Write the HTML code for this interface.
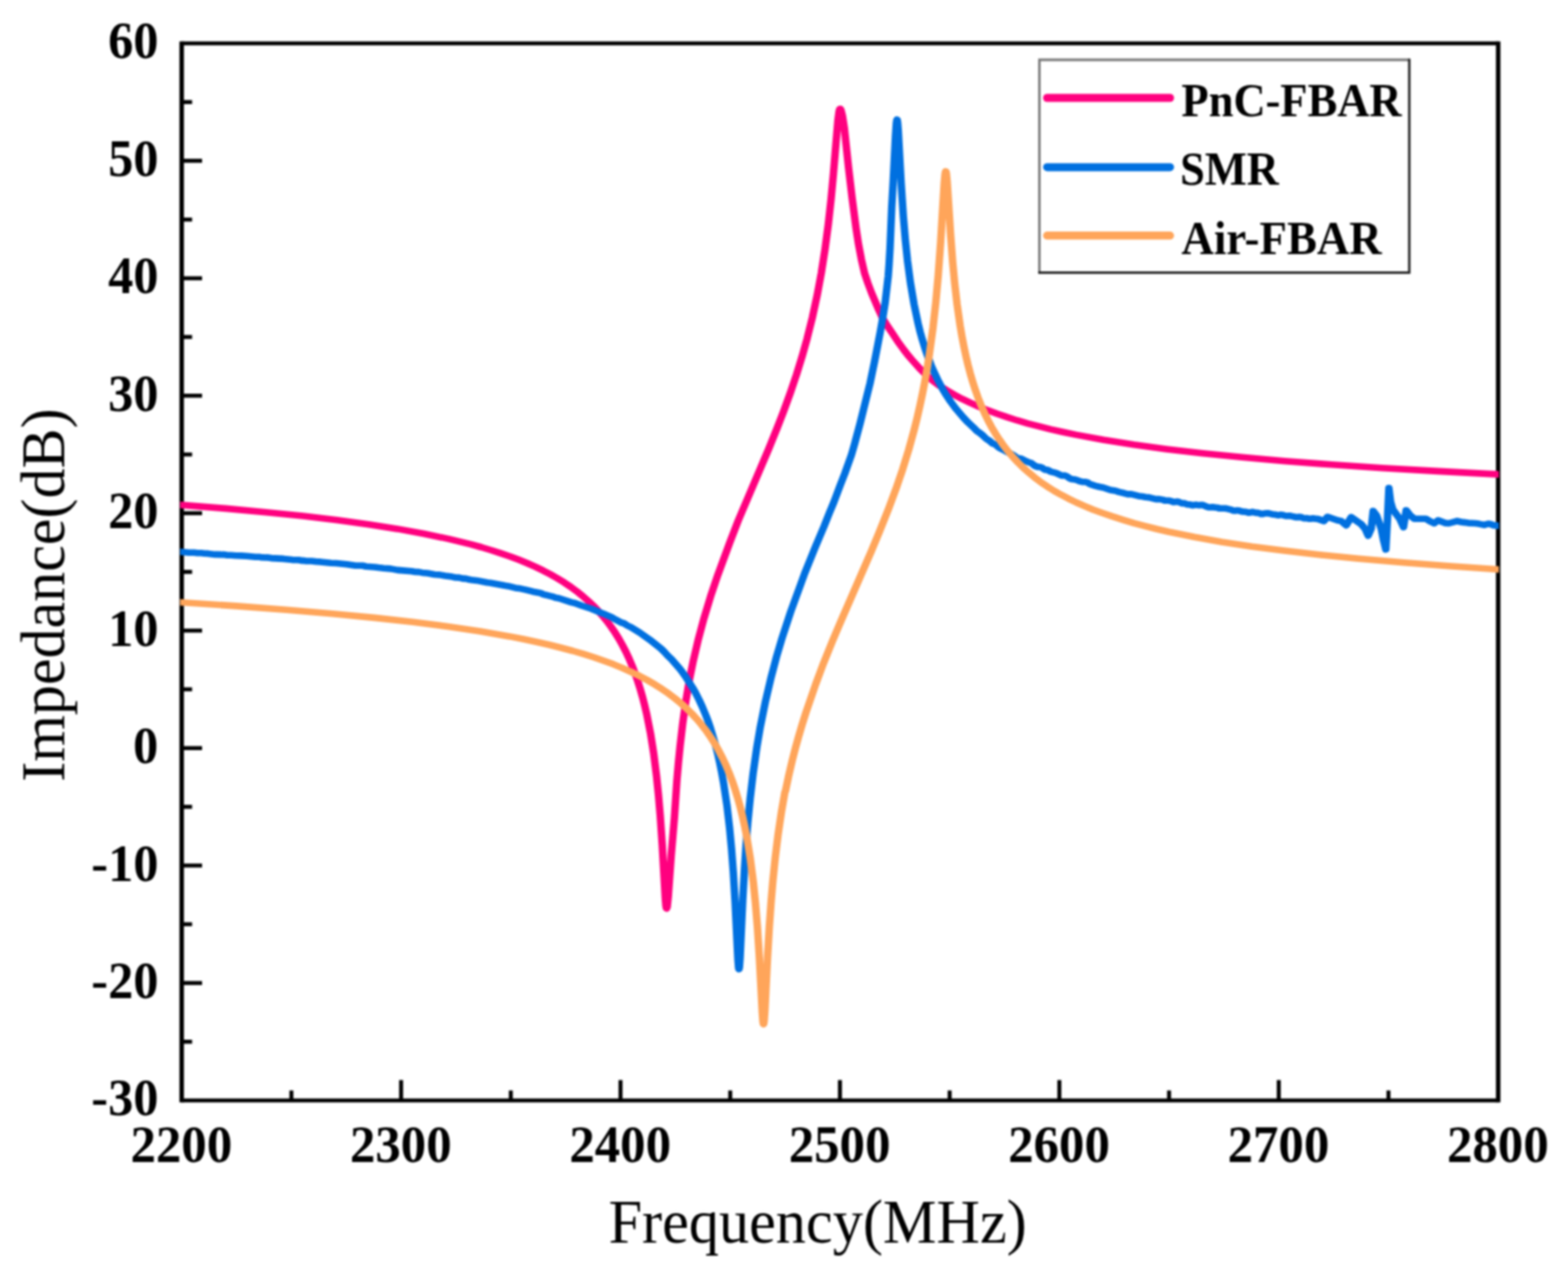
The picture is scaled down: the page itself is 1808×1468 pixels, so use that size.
<!DOCTYPE html>
<html lang="en"><head><meta charset="utf-8"><title>Impedance vs Frequency</title>
<style>
html,body{margin:0;padding:0;background:#fff;}
body{width:1808px;height:1468px;overflow:hidden;}
svg{display:block;filter:blur(1.05px);}
</style></head><body>
<svg width="1808" height="1468" viewBox="0 0 1808 1468" role="img" aria-label="Impedance (dB) versus Frequency (MHz) for PnC-FBAR, SMR and Air-FBAR">
<rect width="1808" height="1468" fill="#fff"/>
<g stroke="#000" stroke-width="4.6" fill="none">
<line x1="336.0" y1="1269.0" x2="336.0" y2="1257.5"/>
<line x1="462.5" y1="1269.0" x2="462.5" y2="1245.5"/>
<line x1="589.0" y1="1269.0" x2="589.0" y2="1257.5"/>
<line x1="715.5" y1="1269.0" x2="715.5" y2="1245.5"/>
<line x1="842.0" y1="1269.0" x2="842.0" y2="1257.5"/>
<line x1="968.5" y1="1269.0" x2="968.5" y2="1245.5"/>
<line x1="1095.0" y1="1269.0" x2="1095.0" y2="1257.5"/>
<line x1="1221.5" y1="1269.0" x2="1221.5" y2="1245.5"/>
<line x1="1348.0" y1="1269.0" x2="1348.0" y2="1257.5"/>
<line x1="1474.5" y1="1269.0" x2="1474.5" y2="1245.5"/>
<line x1="1601.0" y1="1269.0" x2="1601.0" y2="1257.5"/>
<line x1="209.5" y1="117.7" x2="221.5" y2="117.7"/>
<line x1="209.5" y1="185.4" x2="233.0" y2="185.4"/>
<line x1="209.5" y1="253.2" x2="221.5" y2="253.2"/>
<line x1="209.5" y1="320.9" x2="233.0" y2="320.9"/>
<line x1="209.5" y1="388.6" x2="221.5" y2="388.6"/>
<line x1="209.5" y1="456.3" x2="233.0" y2="456.3"/>
<line x1="209.5" y1="524.1" x2="221.5" y2="524.1"/>
<line x1="209.5" y1="591.8" x2="233.0" y2="591.8"/>
<line x1="209.5" y1="659.5" x2="221.5" y2="659.5"/>
<line x1="209.5" y1="727.2" x2="233.0" y2="727.2"/>
<line x1="209.5" y1="794.9" x2="221.5" y2="794.9"/>
<line x1="209.5" y1="862.7" x2="233.0" y2="862.7"/>
<line x1="209.5" y1="930.4" x2="221.5" y2="930.4"/>
<line x1="209.5" y1="998.1" x2="233.0" y2="998.1"/>
<line x1="209.5" y1="1065.8" x2="221.5" y2="1065.8"/>
<line x1="209.5" y1="1133.6" x2="233.0" y2="1133.6"/>
<line x1="209.5" y1="1201.3" x2="221.5" y2="1201.3"/>
</g>
<g stroke="#000" fill="none"><path d="M209.5,47.7 V1271.3 M1727.5,47.7 V1271.3" stroke-width="5.2"/><path d="M209.5,50.0 H1727.5 M209.5,1269.0 H1727.5" stroke-width="4.6"/></g>
<clipPath id="cp"><rect x="207.7" y="50.0" width="1520.6" height="1219.0"/></clipPath>
<g clip-path="url(#cp)"><g transform="scale(1.13,1)" fill="none" stroke-linejoin="round" stroke-linecap="square">
<path d="M185.40,582.3 L230.18,586.4 L271.37,590.7 L309.21,595.1 L344.14,599.8 L376.16,604.7 L405.49,609.9 L432.58,615.5 L457.43,621.4 L480.27,627.7 L491.01,631.0 L501.31,634.5 L511.16,638.1 L520.57,641.7 L529.52,645.6 L538.03,649.5 L546.32,653.6 L554.15,657.9 L561.54,662.3 L568.70,666.9 L575.65,671.7 L582.14,676.6 L588.41,681.8 L594.23,687.1 L599.83,692.6 L604.98,698.1 L609.90,703.8 L614.60,709.8 L619.08,716.0 L623.33,722.5 L627.36,729.1 L631.39,736.4 L634.98,743.6 L638.56,751.4 L641.92,759.5 L645.05,767.8 L647.96,776.4 L650.65,785.1 L653.34,794.7 L655.80,804.5 L658.04,814.4 L660.05,824.3 L663.86,846.1 L666.99,868.5 L669.90,894.5 L671.92,916.8 L673.71,940.8 L675.73,974.1 L678.86,1035.8 L679.53,1044.6 L679.98,1047.3 L680.20,1047.6 L680.84,1045.7 L681.91,1034.1 L684.92,986.8 L688.14,943.5 L690.71,900.2 L692.35,878.7 L694.00,860.0 L696.70,833.9 L699.84,808.7 L703.64,783.1 L707.19,763.3 L712.32,738.4 L718.35,712.9 L725.05,687.9 L732.42,663.2 L744.48,626.2 L753.42,600.0 L784.31,517.8 L792.37,495.4 L799.32,475.2 L806.48,453.0 L812.75,432.0 L818.35,411.6 L823.50,390.8 L828.87,366.5 L833.79,340.8 L838.05,315.0 L841.85,287.6 L845.21,258.7 L848.12,228.7 L850.36,201.5 L855.06,138.2 L856.18,128.6 L856.63,126.5 L856.86,125.9 L857.21,125.6 L857.43,125.6 L857.68,125.9 L858.25,127.4 L859.64,133.6 L861.64,148.1 L865.83,192.9 L869.46,227.9 L873.57,263.5 L876.05,281.7 L879.04,299.4 L882.29,315.4 L885.63,326.6 L889.47,338.1 L896.68,357.4 L900.73,367.2 L905.32,375.5 L910.35,383.9 L915.74,393.2 L922.35,403.5 L926.36,409.4 L930.60,415.0 L938.65,425.1 L944.03,431.1 L949.42,436.6 L954.07,440.9 L958.95,445.0 L966.12,450.2 L973.73,455.2 L981.56,459.9 L989.85,464.4 L998.58,468.8 L1007.76,473.1 L1017.16,477.0 L1027.24,480.9 L1037.76,484.7 L1048.73,488.3 L1060.15,491.7 L1072.24,495.1 L1084.78,498.3 L1097.99,501.4 L1126.20,507.3 L1156.87,512.8 L1190.46,517.9 L1227.18,522.8 L1267.25,527.3 L1311.14,531.7 L1358.83,535.8 L1410.77,539.7 L1467.19,543.4 L1528.76,547.0" stroke="#ff007f" stroke-width="7.6"/>
<path d="M185.40,636.5 L192.56,637.2 L197.94,637.2 L201.52,637.7 L205.10,637.8 L208.68,638.3 L212.27,638.4 L219.43,639.4 L228.39,639.6 L231.97,640.3 L235.55,640.2 L240.92,640.8 L246.30,640.9 L251.67,641.3 L260.63,642.3 L264.21,642.3 L266.00,642.6 L271.37,643.0 L273.16,642.9 L276.75,643.6 L289.28,644.4 L298.24,645.6 L303.61,645.7 L305.41,645.9 L307.20,646.4 L310.78,646.6 L312.57,647.0 L317.94,647.0 L323.32,647.8 L326.90,647.9 L337.65,649.3 L343.02,649.5 L353.77,650.7 L362.72,652.3 L369.89,652.3 L373.47,653.2 L382.42,654.0 L386.01,654.6 L391.38,655.3 L398.55,655.9 L405.71,657.4 L420.04,658.8 L423.62,659.5 L427.20,659.6 L430.79,660.4 L436.16,661.1 L443.32,662.5 L448.70,662.9 L454.07,664.0 L461.24,665.1 L464.82,666.0 L468.40,666.1 L471.98,667.1 L475.56,667.4 L477.36,668.0 L480.94,668.7 L486.31,669.4 L497.06,671.8 L500.64,672.2 L514.97,675.3 L518.55,675.9 L525.72,677.9 L529.30,678.4 L536.46,680.1 L543.63,682.2 L550.79,683.7 L552.58,684.4 L554.38,685.4 L556.17,686.0 L557.96,686.3 L563.33,687.8 L566.91,689.3 L570.50,690.0 L583.03,694.6 L586.62,695.5 L593.78,698.5 L603.41,702.0 L609.90,705.0 L613.48,706.9 L617.07,708.3 L624.23,711.9 L627.81,714.3 L633.19,717.6 L636.77,718.9 L640.35,721.5 L643.93,723.4 L652.89,729.6 L662.96,737.7 L674.38,747.9 L677.96,751.9 L681.55,756.3 L685.13,760.1 L693.41,770.9 L696.32,775.2 L699.46,780.1 L706.62,792.8 L709.53,798.5 L713.34,807.0 L716.70,815.3 L720.73,826.3 L722.74,832.2 L724.98,839.6 L730.36,860.3 L732.37,869.2 L734.39,879.4 L736.40,890.8 L738.42,903.5 L741.77,928.7 L744.46,954.7 L746.48,979.0 L748.27,1005.8 L750.06,1039.6 L752.97,1106.3 L753.64,1115.7 L753.86,1117.1 L754.09,1117.5 L754.54,1115.0 L755.21,1104.6 L757.89,1038.9 L759.69,1001.5 L761.25,974.8 L763.04,949.3 L765.51,920.6 L768.42,892.5 L772.22,862.2 L775.81,838.3 L780.96,809.5 L786.55,782.4 L792.37,757.4 L797.97,736.0 L806.93,705.1 L820.81,662.1 L831.88,631.0 L840.86,607.0 L846.30,591.4 L851.04,578.6 L857.13,560.2 L862.05,546.0 L868.87,524.4 L871.90,512.5 L877.71,488.0 L887.74,442.2 L892.44,416.8 L898.22,382.9 L900.31,369.6 L903.22,349.1 L906.36,318.3 L907.19,305.5 L908.22,285.5 L909.92,239.5 L911.49,208.1 L913.72,157.3 L914.62,142.2 L915.07,138.6 L915.29,138.0 L915.52,138.3 L915.96,141.3 L916.64,151.0 L919.55,211.3 L921.78,249.4 L923.80,276.4 L926.04,300.7 L928.95,325.6 L932.76,351.1 L936.79,372.8 L939.02,383.1 L941.04,391.3 L943.95,401.9 L946.19,409.3 L950.22,421.5 L953.13,429.1 L957.61,439.7 L961.86,448.7 L964.55,453.8 L969.92,463.0 L975.74,471.8 L982.68,481.0 L987.83,487.2 L993.21,492.8 L996.79,497.0 L1000.37,499.8 L1002.16,501.4 L1005.75,505.3 L1007.54,506.8 L1009.33,508.0 L1012.91,511.5 L1014.70,512.1 L1016.49,513.2 L1018.28,515.1 L1020.07,516.7 L1025.45,519.7 L1027.24,521.0 L1030.82,522.9 L1034.40,525.2 L1037.99,528.1 L1039.78,528.7 L1041.57,528.8 L1045.15,530.9 L1048.73,532.7 L1052.32,534.0 L1055.90,537.2 L1057.69,538.0 L1059.48,538.5 L1061.27,538.5 L1063.06,539.2 L1064.85,540.7 L1066.64,541.8 L1068.44,541.9 L1070.23,542.6 L1072.02,543.9 L1077.39,545.4 L1082.76,548.2 L1084.56,548.5 L1086.35,548.4 L1088.14,549.0 L1091.72,551.7 L1093.51,552.5 L1097.09,553.0 L1098.88,553.6 L1102.47,555.2 L1104.26,555.7 L1107.84,555.8 L1109.63,556.3 L1111.42,557.7 L1113.21,558.7 L1117.92,560.3 L1122.17,561.5 L1125.75,562.2 L1132.92,565.0 L1138.29,566.0 L1141.87,567.4 L1147.25,568.8 L1150.83,569.9 L1154.41,569.8 L1161.58,571.9 L1165.16,572.4 L1168.74,573.3 L1172.32,573.6 L1179.49,575.6 L1183.07,575.6 L1186.65,576.4 L1188.44,577.1 L1190.23,577.3 L1192.02,577.2 L1193.82,577.5 L1197.40,578.9 L1200.98,578.4 L1202.77,578.8 L1204.56,579.7 L1206.35,580.4 L1208.15,580.3 L1211.73,581.8 L1213.52,581.8 L1217.10,582.7 L1220.68,582.1 L1222.47,582.5 L1224.27,582.6 L1226.06,582.3 L1227.85,582.6 L1231.43,584.4 L1233.22,585.0 L1235.01,585.0 L1236.80,584.8 L1238.59,584.9 L1242.18,585.4 L1243.97,586.1 L1245.76,586.3 L1249.34,586.2 L1251.13,586.4 L1256.51,587.9 L1258.30,588.7 L1260.09,589.0 L1261.88,588.6 L1263.67,588.7 L1267.25,589.9 L1270.84,590.2 L1274.42,591.3 L1278.00,590.4 L1281.58,591.4 L1283.37,591.4 L1285.16,591.9 L1286.96,592.8 L1288.75,592.6 L1290.54,592.0 L1294.12,591.8 L1297.70,592.9 L1301.28,593.4 L1303.08,594.0 L1304.87,594.1 L1306.66,593.6 L1308.45,593.7 L1310.24,594.4 L1312.03,595.0 L1315.61,594.8 L1317.41,595.1 L1322.78,596.5 L1326.36,596.1 L1328.15,596.5 L1329.94,597.5 L1331.73,597.8 L1333.53,597.6 L1335.32,598.1 L1337.11,598.3 L1338.90,597.8 L1340.69,597.9 L1345.13,598.6 L1351.01,600.9 L1354.54,596.0 L1364.73,600.0 L1368.65,600.9 L1373.74,605.7 L1378.84,596.4 L1389.03,604.4 L1392.95,609.7 L1396.08,617.7 L1399.22,609.7 L1401.18,589.3 L1404.70,594.7 L1409.41,609.7 L1411.76,623.0 L1414.11,633.6 L1415.68,600.9 L1417.25,562.8 L1418.97,578.7 L1421.32,587.6 L1428.22,598.2 L1432.14,607.9 L1434.88,588.5 L1439.19,594.7 L1443.11,598.2 L1454.87,598.2 L1458.79,600.9 L1463.49,603.5 L1467.41,600.0 L1474.47,603.1 L1478.39,603.5 L1486.89,600.8 L1491.15,602.0 L1492.94,602.4 L1494.73,602.4 L1498.31,603.1 L1505.48,603.5 L1509.06,604.1 L1514.43,605.4 L1516.22,604.9 L1518.01,604.1 L1519.81,604.1 L1521.60,604.7 L1523.39,605.5 L1525.18,606.0 L1526.97,606.0 L1528.76,606.4" stroke="#0070e0" stroke-width="7.6"/>
<path d="M185.40,694.7 L241.37,698.9 L292.42,703.2 L339.21,707.7 L381.98,712.4 L421.16,717.3 L456.98,722.5 L489.89,728.0 L519.90,733.9 L534.00,737.0 L547.43,740.2 L560.20,743.5 L572.51,747.0 L584.15,750.5 L595.35,754.2 L606.09,758.0 L616.17,762.0 L626.02,766.1 L635.20,770.4 L643.93,774.8 L652.44,779.4 L660.50,784.3 L668.11,789.3 L675.28,794.4 L682.22,799.8 L688.71,805.4 L694.76,811.0 L700.58,817.0 L705.95,823.0 L711.32,829.6 L716.25,836.3 L720.95,843.2 L725.43,850.6 L729.68,858.2 L733.49,865.8 L737.30,874.1 L740.88,882.8 L744.24,891.8 L747.37,901.2 L750.28,910.9 L752.97,920.9 L755.43,931.1 L757.67,941.4 L759.91,952.9 L761.92,964.5 L765.51,989.2 L768.64,1016.7 L770.88,1041.6 L772.90,1069.5 L774.91,1105.0 L777.82,1167.3 L778.49,1177.4 L778.94,1180.7 L779.16,1181.0 L779.39,1180.4 L779.84,1176.6 L780.51,1165.6 L783.19,1104.5 L784.99,1069.5 L786.78,1040.9 L788.57,1016.9 L791.03,989.5 L793.94,962.7 L797.30,936.9 L800.88,913.6 L801.49,912.2 L804.80,894.5 L808.57,876.3 L811.61,862.9 L814.88,849.5 L818.60,835.2 L822.55,821.1 L832.34,789.0 L840.29,764.9 L849.36,739.4 L857.77,717.1 L889.03,635.9 L897.30,613.4 L906.78,586.4 L914.40,563.3 L921.11,541.1 L927.16,519.0 L932.76,496.0 L935.67,482.9 L938.58,468.6 L941.26,454.3 L943.73,439.9 L945.97,425.6 L948.20,409.7 L952.01,378.2 L954.92,348.5 L957.38,317.6 L959.85,279.2 L963.43,212.1 L964.32,200.8 L964.77,198.1 L965.00,197.6 L965.22,197.8 L965.67,199.9 L966.56,210.2 L969.92,269.2 L972.16,302.5 L974.18,326.8 L976.64,351.0 L979.77,375.8 L981.56,387.7 L983.58,399.7 L985.59,410.4 L987.83,421.1 L990.07,430.7 L992.54,440.2 L995.22,449.7 L998.13,458.9 L1001.27,467.8 L1004.63,476.4 L1008.21,484.8 L1011.79,492.4 L1015.82,500.1 L1019.85,507.1 L1024.10,513.9 L1028.81,520.8 L1033.73,527.3 L1038.88,533.5 L1044.25,539.5 L1049.85,545.1 L1055.67,550.6 L1061.94,555.9 L1068.66,561.1 L1075.60,566.0 L1082.76,570.6 L1090.38,575.1 L1098.44,579.5 L1106.72,583.6 L1115.45,587.7 L1124.63,591.5 L1134.71,595.4 L1147.02,599.8 L1157.32,603.3 L1168.29,606.6 L1180.16,610.0 L1192.47,613.2 L1218.67,619.3 L1246.65,624.9 L1277.33,630.2 L1310.46,635.1 L1346.51,639.8 L1386.59,644.3 L1432.49,648.8 L1478.61,652.8 L1528.76,656.6" stroke="#ffa55a" stroke-width="7.6"/>
</g></g>
<g font-family="'Liberation Serif', serif" font-weight="bold" fill="#000">
<text transform="translate(209.1,1339.7) scale(0.962,1)" text-anchor="middle" font-size="61">2200</text>
<text transform="translate(462.1,1339.7) scale(0.962,1)" text-anchor="middle" font-size="61">2300</text>
<text transform="translate(715.1,1339.7) scale(0.962,1)" text-anchor="middle" font-size="61">2400</text>
<text transform="translate(968.1,1339.7) scale(0.962,1)" text-anchor="middle" font-size="61">2500</text>
<text transform="translate(1221.1,1339.7) scale(0.962,1)" text-anchor="middle" font-size="61">2600</text>
<text transform="translate(1474.1,1339.7) scale(0.962,1)" text-anchor="middle" font-size="61">2700</text>
<text transform="translate(1727.1,1339.7) scale(0.962,1)" text-anchor="middle" font-size="61">2800</text>
<text transform="translate(182.6,67.4) scale(0.95,1)" text-anchor="end" font-size="61">60</text>
<text transform="translate(182.6,202.8) scale(0.95,1)" text-anchor="end" font-size="61">50</text>
<text transform="translate(182.6,338.3) scale(0.95,1)" text-anchor="end" font-size="61">40</text>
<text transform="translate(182.6,473.7) scale(0.95,1)" text-anchor="end" font-size="61">30</text>
<text transform="translate(182.6,609.2) scale(0.95,1)" text-anchor="end" font-size="61">20</text>
<text transform="translate(182.6,744.6) scale(0.95,1)" text-anchor="end" font-size="61">10</text>
<text transform="translate(182.6,880.1) scale(0.95,1)" text-anchor="end" font-size="61">0</text>
<text transform="translate(182.6,1015.5) scale(0.95,1)" text-anchor="end" font-size="61">-10</text>
<text transform="translate(182.6,1151.0) scale(0.95,1)" text-anchor="end" font-size="61">-20</text>
<text transform="translate(182.6,1286.4) scale(0.95,1)" text-anchor="end" font-size="61">-30</text>
</g>
<g font-family="'Liberation Serif', serif" fill="#000">
<text transform="translate(942.8,1432.6) scale(0.965,1)" text-anchor="middle" font-size="72">Frequency(MHz)</text>
<text transform="translate(74,686.3) rotate(-90) scale(0.9616,1)" text-anchor="middle" font-size="72">Impedance(dB)</text>
</g>
<rect x="1198.5" y="69" width="426.5" height="245.3" fill="#fff"/>
<path d="M1198.5,315.3 V69 H1626" fill="none" stroke="#777" stroke-width="2.8"/>
<path d="M1197.2,314.3 H1625 V67.7" fill="none" stroke="#1c1c1c" stroke-width="2.7"/>
<g font-family="'Liberation Serif', serif" font-weight="bold" font-size="54.5" fill="#000">
<line x1="1207.4" y1="112.9" x2="1349.1" y2="112.9" stroke="#ff007f" stroke-width="9.3" stroke-linecap="round"/>
<text transform="translate(1362.3,134.0) scale(0.942,1)">PnC-FBAR</text>
<line x1="1207.4" y1="192.8" x2="1349.1" y2="192.8" stroke="#0070e0" stroke-width="9.3" stroke-linecap="round"/>
<text transform="translate(1360.8,213.0) scale(0.94,1)">SMR</text>
<line x1="1207.4" y1="271.7" x2="1349.1" y2="271.7" stroke="#ffa55a" stroke-width="9.3" stroke-linecap="round"/>
<text transform="translate(1362.3,293.0) scale(0.95,1)">Air-FBAR</text>
</g>
</svg>
</body></html>
